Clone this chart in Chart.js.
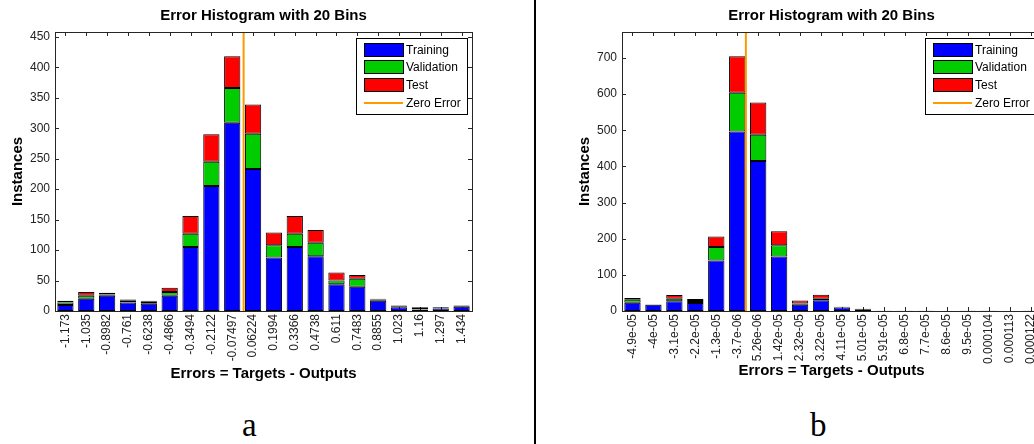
<!DOCTYPE html>
<html>
<head>
<meta charset="utf-8">
<script src="https://cdn.jsdelivr.net/npm/chart.js@4.4.1/dist/chart.umd.min.js"></script>
<style>
  body { margin: 0; width: 1034px; height: 444px; overflow: hidden; background: #fff; position: relative; }
  .panel { position: absolute; top: 0; }
  #divider { position: absolute; left: 534px; top: 0; width: 2px; height: 444px; background: #000; }
  .tag { position: absolute; top: 409px; line-height: 32px; font-family: 'Liberation Serif', 'DejaVu Serif', serif; font-size: 33px; color: #000; }
</style>
</head>
<body>
<div class="panel" style="left:0"><canvas id="histA" width="520" height="400"></canvas></div>
<div id="divider"></div>
<div class="panel" style="left:567px"><canvas id="histB" width="522" height="400"></canvas></div>
<div class="tag" style="left:242px">a</div>
<div class="tag" style="left:810px">b</div>
<script>
// chart a
var binsA = ['-1.173', '-1.035', '-0.8982', '-0.761', '-0.6238', '-0.4866', '-0.3494', '-0.2122', '-0.07497', '0.06224',
             '0.1994', '0.3366', '0.4738', '0.611', '0.7483', '0.8855', '1.023', '1.16', '1.297', '1.434'];
var trainA = [10, 20, 25, 14, 12, 25, 105, 205, 309, 233, 88, 105, 90, 44, 40, 17, 6, 2, 4, 7];
var validA = [4, 5, 2, 3, 3, 6, 22, 40, 57, 58, 20, 22, 22, 6, 13, 2, 1, 1, 1, 2];
var testA  = [3, 6, 3, 2, 2, 7, 29, 45, 52, 48, 21, 29, 21, 13, 6, 1, 2, 3, 1, 0];
var yTicksA = [0, 50, 100, 150, 200, 250, 300, 350, 400, 450];
var yMaxA = 458;

// chart b
var binsB = ['-4.9e-05', '-4e-05', '-3.1e-05', '-2.2e-05', '-1.3e-05', '-3.7e-06', '5.26e-06', '1.42e-05', '2.32e-05', '3.22e-05',
             '4.11e-05', '5.01e-05', '5.91e-05', '6.8e-05', '7.7e-05', '8.6e-05', '9.5e-05', '0.000104', '0.000113', '0.000122'];
var trainB = [23, 17, 27, 22, 140, 497, 415, 151, 17, 30, 10, 5, 1, 1, 1, 0, 1, 1, 0, 1];
var validB = [8, 1, 7, 6, 37, 107, 73, 31, 4, 4, 1, 1, 0, 0, 0, 0, 0, 0, 0, 0];
var testB  = [5, 1, 10, 5, 29, 101, 89, 39, 8, 11, 1, 0, 0, 0, 0, 0, 0, 0, 0, 0];
var yTicksB = [0, 100, 200, 300, 400, 500, 600, 700];
var yMaxB = 772;

var titleText = 'Error Histogram with 20 Bins';
var zeroLabel = 'Zero Error';
var zeroColor = '#ff9900';

var FONT = "'Liberation Sans', Arial, sans-serif";
Chart.defaults.font.family = FONT;
Chart.defaults.color = '#000';

// where 0 falls between the bin centres (fractional bin index)
function zeroIndex(bins) {
    var c = bins.map(Number);
    for (var i = 0; i < c.length - 1; i++) {
        if (c[i] <= 0 && c[i + 1] > 0) return i + (0 - c[i]) / (c[i + 1] - c[i]);
    }
    return 0;
}

// matlab style box, inward ticks, zero line, title and legend
var matlabAxes = {
    id: 'matlabAxes',
    beforeDatasetsDraw: function (chart) {
        var ctx = chart.ctx, a = chart.chartArea;
        var xs = chart.scales.x, ys = chart.scales.y;
        ctx.save();
        ctx.strokeStyle = '#262626';
        ctx.lineWidth = 1;
        ctx.beginPath();
        ys.ticks.forEach(function (t) {
            var y = Math.round(ys.getPixelForValue(t.value)) + 0.5;
            ctx.moveTo(a.left, y); ctx.lineTo(a.left + 4, y);
            ctx.moveTo(a.right, y); ctx.lineTo(a.right - 4, y);
        });
        for (var i = 0; i < xs.ticks.length; i++) {
            var x = Math.round(xs.getPixelForTick(i)) + 0.5;
            ctx.moveTo(x, a.top); ctx.lineTo(x, a.top + 4);
            ctx.moveTo(x, a.bottom); ctx.lineTo(x, a.bottom - 4);
        }
        ctx.stroke();
        ctx.restore();
    },
    afterDatasetsDraw: function (chart) {
        var ctx = chart.ctx, a = chart.chartArea;
        var zx = chart.scales.x.getPixelForValue(zeroIndex(chart.data.labels));
        ctx.save();
        ctx.strokeStyle = zeroColor;
        ctx.lineWidth = 2;
        ctx.beginPath();
        ctx.moveTo(zx, a.top); ctx.lineTo(zx, a.bottom);
        ctx.stroke();
        ctx.restore();
    },
    afterDraw: function (chart) {
        var ctx = chart.ctx, a = chart.chartArea;
        ctx.save();
        ctx.strokeStyle = '#262626';
        ctx.lineWidth = 1;
        ctx.strokeRect(Math.round(a.left) + 0.5, Math.round(a.top) + 0.5, Math.round(a.right - a.left), Math.round(a.bottom - a.top));

        // title over the plot box
        ctx.fillStyle = '#000';
        ctx.font = 'bold 15px ' + FONT;
        ctx.textAlign = 'center';
        ctx.textBaseline = 'middle';
        ctx.fillText(titleText, (a.left + a.right) / 2, 16);
        ctx.textAlign = 'left';

        // legend
        var w = 111, h = 76;
        var x0 = Math.round(a.right) - 5 - w, y0 = Math.round(a.top) + 6;
        ctx.fillStyle = '#fff';
        ctx.fillRect(x0, y0, w, h);
        ctx.strokeStyle = '#000';
        ctx.strokeRect(x0 + 0.5, y0 + 0.5, w, h);
        ctx.font = '12px ' + FONT;
        var items = chart.data.datasets.map(function (ds) { return { label: ds.label, color: ds.backgroundColor }; });
        items.push({ label: zeroLabel, color: zeroColor, line: true });
        items.forEach(function (it, i) {
            var cy = Math.round(y0 + 11.5 + i * 17.9);
            if (it.line) {
                ctx.strokeStyle = it.color;
                ctx.lineWidth = 2;
                ctx.beginPath();
                ctx.moveTo(x0 + 8, cy); ctx.lineTo(x0 + 47, cy);
                ctx.stroke();
            } else {
                ctx.fillStyle = it.color;
                ctx.fillRect(x0 + 8, cy - 7, 39, 13);
                ctx.strokeStyle = '#000';
                ctx.lineWidth = 1;
                ctx.strokeRect(x0 + 8.5, cy - 6.5, 39, 13);
            }
            ctx.fillStyle = '#000';
            ctx.fillText(it.label, x0 + 50, cy + 1);
        });
        ctx.restore();
    }
};

function makeHist(id, bins, train, valid, test, yTicks, yMax, xTitlePad) {
    return new Chart(document.getElementById(id), {
        type: 'bar',
        data: {
            labels: bins,
            datasets: [
                { label: 'Training', data: train, backgroundColor: '#0000ff' },
                { label: 'Validation', data: valid, backgroundColor: '#00cc00' },
                { label: 'Test', data: test, backgroundColor: '#ff0000' }
            ]
        },
        options: {
            responsive: false,
            animation: false,
            layout: { padding: { left: 0, right: 48, top: 32, bottom: 13 } },
            datasets: {
                bar: { borderColor: '#000', borderWidth: 1, borderSkipped: false, barPercentage: 0.78, categoryPercentage: 1 }
            },
            plugins: {
                legend: { display: false },
                tooltip: { enabled: false },
                title: { display: false }
            },
            scales: {
                x: {
                    stacked: true,
                    grid: { display: false, drawTicks: false },
                    border: { display: false },
                    ticks: { autoSkip: false, minRotation: 90, maxRotation: 90, padding: 3, font: { size: 12 }, color: '#222' },
                    title: { display: true, text: 'Errors = Targets - Outputs', font: { size: 15, weight: 'bold' }, padding: { top: 0, bottom: xTitlePad } },
                    afterFit: function (s) { s.height = 76; }
                },
                y: {
                    stacked: true,
                    min: 0,
                    max: yMax,
                    grid: { display: false, drawTicks: false },
                    border: { display: false },
                    ticks: { padding: 5, font: { size: 12 }, color: '#222' },
                    afterBuildTicks: function (s) { s.ticks = yTicks.map(function (v) { return { value: v }; }); },
                    title: { display: true, text: 'Instances', font: { size: 15, weight: 'bold' }, padding: { top: 8.5, bottom: 0 } },
                    afterFit: function (s) { s.width = 55; }
                }
            }
        },
        plugins: [matlabAxes]
    });
}

var chartA = makeHist('histA', binsA, trainA, validA, testA, yTicksA, yMaxA, 4);
var chartB = makeHist('histB', binsB, trainB, validB, testB, yTicksB, yMaxB, 7);
</script>
</body>
</html>
